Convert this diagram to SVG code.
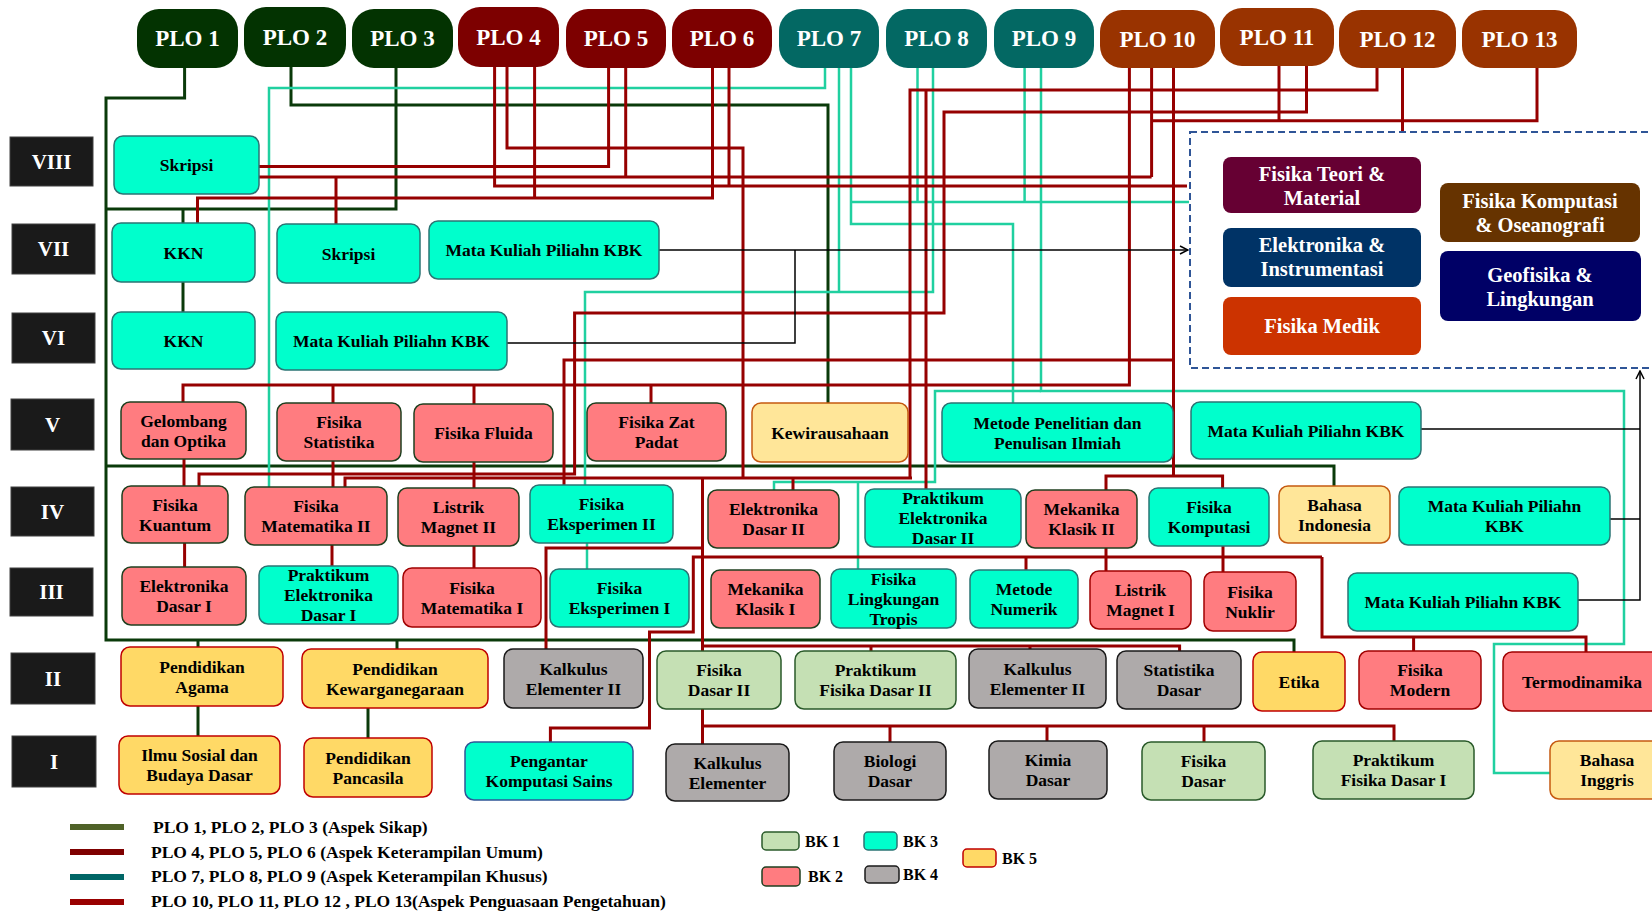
<svg xmlns="http://www.w3.org/2000/svg" width="1652" height="911" viewBox="0 0 1652 911">
<style>
.plo rect{stroke:none}
.plo text{font-family:'Liberation Serif',serif;font-weight:bold;font-size:23px;fill:#fff;text-anchor:middle}
.sem rect{fill:#1a1a1a;stroke:#404040;stroke-width:1}
.sem text{font-family:'Liberation Serif',serif;font-weight:bold;font-size:21px;fill:#fff;text-anchor:middle}
.n text{font-family:'Liberation Serif',serif;font-weight:bold;font-size:17.5px;fill:#000;text-anchor:middle}
.aq{fill:#00ffcc;stroke:#2b7474;stroke-width:1.5}
.pk{fill:#ff7c80;stroke:#1f3f1f;stroke-width:1.5}
.pkr{fill:#ff7c80;stroke:#a00000;stroke-width:1.5}
.gr{fill:#c5e0b4;stroke:#2a5a2a;stroke-width:1.5}
.gy{fill:#aeaaaa;stroke:#1a1a1a;stroke-width:1.5}
.yl{fill:#ffd966;stroke:#c00000;stroke-width:1.5}
.ly{fill:#ffe699;stroke:#c55a11;stroke-width:1.5}
.kbk text{font-family:'Liberation Serif',serif;font-weight:bold;font-size:20.5px;fill:#fff;text-anchor:middle}
.cg{stroke:#0a3a0a;stroke-width:3;fill:none}
.cr{stroke:#960000;stroke-width:3;fill:none}
.ct{stroke:#20d0a0;stroke-width:2.5;fill:none}
.cb{stroke:#000;stroke-width:1.5;fill:none}
.lg{font-family:'Liberation Serif',serif;font-weight:bold;font-size:17.5px;fill:#000}
.bk{font-family:'Liberation Serif',serif;font-weight:bold;font-size:16px;fill:#000}
</style>
<defs>
<marker id="ah" markerWidth="10" markerHeight="10" refX="9" refY="5" orient="auto" markerUnits="userSpaceOnUse">
<path d="M1,1 L9,5 L1,9" fill="none" stroke="#000" stroke-width="1.5"/>
</marker>
</defs>
<rect width="1652" height="911" fill="#fff"/>

<g id="connectors">
<g class="cg">
<path d="M184.6,68 V98 H106 V640 H1294 V652"/>
<path d="M106,466 H1334 V486"/>
<path d="M396,68 V209 H106"/>
<path d="M183,209 V223"/>
<path d="M183,282 V312"/>
<path d="M198,640 V647"/>
<path d="M397,640 V649"/>
<path d="M198,706 V736"/>
<path d="M368,708 V738"/>
<path d="M291,67 V105 H828 V403"/>
</g>
<g class="ct">
<path d="M825,68 V88 H269 V487"/>
<path d="M839,68 V292"/>
<path d="M933,68 V292 H585 V485"/>
<path d="M851,68 V224 H1013 V403"/>
<path d="M851,202 H1189"/>
<path d="M917.5,68 V202"/>
<path d="M1024.6,68 V202"/>
<path d="M1041,68 V391 H1624 V644 H1494 V773 H1550"/>
<path d="M1041,391 H935 V482 H774 V490"/>
<path d="M858,482 V569"/>
<path d="M587,543 V569"/>
</g>
<g class="cr">
<path d="M507,67 V148 H743 V478"/>
<path d="M494.6,67 V186 H1187"/>
<path d="M534.6,67 V198"/>
<path d="M712.5,68 V198 H197.5 V223"/>
<path d="M608.6,68 V166.5 H259"/>
<path d="M625.7,68 V177"/>
<path d="M259,177 H1151.6"/>
<path d="M336,177 V224"/>
<path d="M729,68 V186"/>
<path d="M1151.6,68 V177"/>
<path d="M1537,68 V120.7 H1151.6"/>
<path d="M1279,66 V120.7"/>
<path d="M1377,68 V90 H910 V478"/>
<path d="M926,90 V489"/>
<path d="M1306.5,66 V112 H944 V313 H574.6 V474 H199 V486"/>
<path d="M1173.5,68 V476"/>
<path d="M1173.5,360 H564 V485"/>
<path d="M1106,490 V476 H1222.6 V488"/>
<path d="M1129.4,68 V385 H183 V402"/>
<path d="M333,385 V403"/>
<path d="M474,385 V404"/>
<path d="M651,385 V403"/>
<path d="M1402.5,68 V132"/>
<path d="M345,487 V478 H912"/>
<path d="M793,478 V490"/>
<path d="M702.5,478 V651"/>
<path d="M702.5,709 V744"/>
<path d="M546,649 V548 H702.5"/>
<path d="M702.5,646 H1179.6 V651"/>
<path d="M871,646 V651"/>
<path d="M1030,646 V649"/>
<path d="M702.5,726 H1394 V741"/>
<path d="M890,726 V742"/>
<path d="M1047,726 V741"/>
<path d="M1204,726 V742"/>
<path d="M1322,557 H693.3 V632 H649.5 V728 H550.4 V742"/>
<path d="M1322,557 V637 H1586 V652"/>
<path d="M1413.6,637 V651"/>
<path d="M1026,557 V570"/>
<path d="M1106,548 V571"/>
<path d="M1223,546 V572"/>
<path d="M184,459 V486"/>
<path d="M184.6,543 V567"/>
<path d="M333,461 V487"/>
<path d="M332,545 V566"/>
<path d="M474,462 V488"/>
<path d="M474,546 V568"/>
</g>
<g class="cb">
<path d="M659,250 H1188" marker-end="url(#ah)"/>
<path d="M507,343 H795 V250"/>
<path d="M1421,429 H1640"/>
<path d="M1610,519 H1640"/>
<path d="M1578,600 H1640 V371" marker-end="url(#ah)"/>
</g>
</g>

<g id="plo" class="plo">
<g id="plo1"><rect x="137" y="9" width="101" height="59" rx="22" fill="#033301"/><text x="187.5" y="46">PLO 1</text></g>
<g id="plo2"><rect x="244" y="7" width="102" height="60" rx="22" fill="#033301"/><text x="295" y="45">PLO 2</text></g>
<g id="plo3"><rect x="352" y="9" width="101" height="59" rx="22" fill="#033301"/><text x="402.5" y="46">PLO 3</text></g>
<g id="plo4"><rect x="458" y="7" width="101" height="60" rx="22" fill="#7d0000"/><text x="508.5" y="45">PLO 4</text></g>
<g id="plo5"><rect x="566" y="9" width="100" height="59" rx="22" fill="#7d0000"/><text x="616" y="46">PLO 5</text></g>
<g id="plo6"><rect x="672" y="9" width="100" height="59" rx="22" fill="#7d0000"/><text x="722" y="46">PLO 6</text></g>
<g id="plo7"><rect x="779" y="9" width="100" height="59" rx="22" fill="#036863"/><text x="829" y="46">PLO 7</text></g>
<g id="plo8"><rect x="886" y="9" width="101" height="59" rx="22" fill="#036863"/><text x="936.5" y="46">PLO 8</text></g>
<g id="plo9"><rect x="994" y="9" width="100" height="59" rx="22" fill="#036863"/><text x="1044" y="46">PLO 9</text></g>
<g id="plo10"><rect x="1100" y="10" width="115" height="58" rx="22" fill="#993300"/><text x="1157.5" y="47">PLO 10</text></g>
<g id="plo11"><rect x="1220" y="8" width="114" height="58" rx="22" fill="#993300"/><text x="1277" y="45">PLO 11</text></g>
<g id="plo12"><rect x="1339" y="10" width="117" height="58" rx="22" fill="#993300"/><text x="1397.5" y="47">PLO 12</text></g>
<g id="plo13"><rect x="1462" y="10" width="115" height="58" rx="22" fill="#993300"/><text x="1519.5" y="47">PLO 13</text></g>
</g>

<g id="semesters" class="sem">
<g id="sem8"><rect x="10" y="137" width="83" height="49"/><text x="51.5" y="169">VIII</text></g>
<g id="sem7"><rect x="12" y="224" width="83" height="50"/><text x="53.5" y="256">VII</text></g>
<g id="sem6"><rect x="12" y="313" width="83" height="50"/><text x="53.5" y="345">VI</text></g>
<g id="sem5"><rect x="11" y="399" width="83" height="51"/><text x="52.5" y="432">V</text></g>
<g id="sem4"><rect x="11" y="487" width="83" height="49"/><text x="52.5" y="519">IV</text></g>
<g id="sem3"><rect x="10" y="568" width="83" height="48"/><text x="51.5" y="599">III</text></g>
<g id="sem2"><rect x="11" y="653" width="84" height="51"/><text x="53" y="686">II</text></g>
<g id="sem1"><rect x="12" y="736" width="84" height="51"/><text x="54" y="769">I</text></g>
</g>

<g id="kbk-box">
<rect x="1190" y="132" width="480" height="236" fill="none" stroke="#2f5597" stroke-width="2" stroke-dasharray="7 4"/>
<g class="kbk">
<g id="ftm"><rect x="1223" y="157" width="198" height="56" rx="8" fill="#660033"/><text x="1322" y="181">Fisika Teori &amp;</text><text x="1322" y="205">Material</text></g>
<g id="ei"><rect x="1223" y="228" width="198" height="59" rx="8" fill="#003366"/><text x="1322" y="252">Elektronika &amp;</text><text x="1322" y="276">Instrumentasi</text></g>
<g id="fm"><rect x="1223" y="297" width="198" height="58" rx="8" fill="#cc3300"/><text x="1322" y="333">Fisika Medik</text></g>
<g id="fko"><rect x="1440" y="183" width="200" height="59" rx="8" fill="#663300"/><text x="1540" y="208">Fisika Komputasi</text><text x="1540" y="232">&amp; Oseanografi</text></g>
<g id="gl"><rect x="1440" y="251" width="201" height="70" rx="8" fill="#000066"/><text x="1540" y="282">Geofisika &amp;</text><text x="1540" y="306">Lingkungan</text></g>
</g>
</g>

<g id="nodes" class="n">
<g id="skripsi8"><rect class="aq" x="114" y="136" width="145" height="58" rx="9"/><text x="186.5" y="171">Skripsi</text></g>
<g id="kkn7"><rect class="aq" x="112" y="223" width="143" height="59" rx="9"/><text x="183.5" y="258.5">KKN</text></g>
<g id="skripsi7"><rect class="aq" x="277" y="224" width="143" height="59" rx="9"/><text x="348.5" y="259.5">Skripsi</text></g>
<g id="kbk7"><rect class="aq" x="429" y="221" width="230" height="58" rx="9"/><text x="544" y="256">Mata Kuliah Piliahn KBK</text></g>
<g id="kkn6"><rect class="aq" x="112" y="312" width="143" height="57" rx="9"/><text x="183.5" y="346.5">KKN</text></g>
<g id="kbk6"><rect class="aq" x="276" y="312" width="231" height="58" rx="9"/><text x="391.5" y="347">Mata Kuliah Piliahn KBK</text></g>

<g id="gelombang"><rect class="pk" x="121" y="402" width="125" height="57" rx="9"/><text x="183.5" y="426.5">Gelombang</text><text x="183.5" y="446.5">dan Optika</text></g>
<g id="fisstat"><rect class="pk" x="277" y="403" width="124" height="58" rx="9"/><text x="339" y="428">Fisika</text><text x="339" y="448">Statistika</text></g>
<g id="fisfluida"><rect class="pk" x="414" y="404" width="139" height="58" rx="9"/><text x="483.5" y="439">Fisika Fluida</text></g>
<g id="fiszat"><rect class="pk" x="587" y="403" width="139" height="58" rx="9"/><text x="656.5" y="428">Fisika Zat</text><text x="656.5" y="448">Padat</text></g>
<g id="kewira"><rect class="ly" x="752" y="403" width="156" height="59" rx="9"/><text x="830" y="438.5">Kewirausahaan</text></g>
<g id="metpen"><rect class="aq" x="942" y="403" width="231" height="59" rx="9"/><text x="1057.5" y="428.5">Metode Penelitian dan</text><text x="1057.5" y="448.5">Penulisan Ilmiah</text></g>
<g id="kbk5"><rect class="aq" x="1191" y="402" width="230" height="57" rx="9"/><text x="1306" y="436.5">Mata Kuliah Piliahn KBK</text></g>

<g id="fiskuantum"><rect class="pk" x="122" y="486" width="106" height="57" rx="9"/><text x="175" y="510.5">Fisika</text><text x="175" y="530.5">Kuantum</text></g>
<g id="fismat2"><rect class="pk" x="245" y="487" width="142" height="58" rx="9"/><text x="316" y="512">Fisika</text><text x="316" y="532">Matematika II</text></g>
<g id="lm2"><rect class="pk" x="398" y="488" width="121" height="58" rx="9"/><text x="458.5" y="513">Listrik</text><text x="458.5" y="533">Magnet II</text></g>
<g id="fiseks2"><rect class="aq" x="530" y="485" width="143" height="58" rx="9"/><text x="601.5" y="510">Fisika</text><text x="601.5" y="530">Eksperimen II</text></g>
<g id="eldas2"><rect class="pk" x="708" y="490" width="131" height="58" rx="9"/><text x="773.5" y="515">Elektronika</text><text x="773.5" y="535">Dasar II</text></g>
<g id="prakeldas2"><rect class="aq" x="865" y="489" width="156" height="58" rx="9"/><text x="943" y="504">Praktikum</text><text x="943" y="524">Elektronika</text><text x="943" y="544">Dasar II</text></g>
<g id="mekklas2"><rect class="pk" x="1026" y="490" width="111" height="58" rx="9"/><text x="1081.5" y="515">Mekanika</text><text x="1081.5" y="535">Klasik II</text></g>
<g id="fiskomp"><rect class="aq" x="1149" y="488" width="120" height="58" rx="9"/><text x="1209" y="513">Fisika</text><text x="1209" y="533">Komputasi</text></g>
<g id="bahasaindo"><rect class="ly" x="1279" y="486" width="111" height="57" rx="9"/><text x="1334.5" y="510.5">Bahasa</text><text x="1334.5" y="530.5">Indonesia</text></g>
<g id="kbk4"><rect class="aq" x="1399" y="487" width="211" height="58" rx="9"/><text x="1504.5" y="512">Mata Kuliah Piliahn</text><text x="1504.5" y="532">KBK</text></g>

<g id="eldas1"><rect class="pk" x="122" y="567" width="124" height="58" rx="9"/><text x="184" y="592">Elektronika</text><text x="184" y="612">Dasar I</text></g>
<g id="prakeldas1"><rect class="aq" x="259" y="566" width="139" height="58" rx="9"/><text x="328.5" y="581">Praktikum</text><text x="328.5" y="601">Elektronika</text><text x="328.5" y="621">Dasar I</text></g>
<g id="fismat1"><rect class="pkr" x="403" y="568" width="138" height="59" rx="9"/><text x="472" y="593.5">Fisika</text><text x="472" y="613.5">Matematika I</text></g>
<g id="fiseks1"><rect class="aq" x="550" y="569" width="139" height="58" rx="9"/><text x="619.5" y="594">Fisika</text><text x="619.5" y="614">Eksperimen I</text></g>
<g id="mekklas1"><rect class="pk" x="711" y="570" width="109" height="58" rx="9"/><text x="765.5" y="595">Mekanika</text><text x="765.5" y="615">Klasik I</text></g>
<g id="fisling"><rect class="aq" x="831" y="569" width="125" height="59" rx="9"/><text x="893.5" y="584.5">Fisika</text><text x="893.5" y="604.5">Lingkungan</text><text x="893.5" y="624.5">Tropis</text></g>
<g id="metnum"><rect class="aq" x="970" y="570" width="108" height="58" rx="9"/><text x="1024" y="595">Metode</text><text x="1024" y="615">Numerik</text></g>
<g id="lm1"><rect class="pkr" x="1090" y="571" width="101" height="58" rx="9"/><text x="1140.5" y="596">Listrik</text><text x="1140.5" y="616">Magnet I</text></g>
<g id="fisnuklir"><rect class="pkr" x="1204" y="572" width="92" height="59" rx="9"/><text x="1250" y="597.5">Fisika</text><text x="1250" y="617.5">Nuklir</text></g>
<g id="kbk3"><rect class="aq" x="1348" y="573" width="230" height="58" rx="9"/><text x="1463" y="608">Mata Kuliah Piliahn KBK</text></g>

<g id="pendagama"><rect class="yl" x="121" y="647" width="162" height="59" rx="9"/><text x="202" y="672.5">Pendidikan</text><text x="202" y="692.5">Agama</text></g>
<g id="pkn"><rect class="yl" x="302" y="649" width="186" height="59" rx="9"/><text x="395" y="674.5">Pendidikan</text><text x="395" y="694.5">Kewarganegaraan</text></g>
<g id="kalk2a"><rect class="gy" x="504" y="649" width="139" height="59" rx="9"/><text x="573.5" y="674.5">Kalkulus</text><text x="573.5" y="694.5">Elementer II</text></g>
<g id="fisdas2"><rect class="gr" x="657" y="651" width="124" height="58" rx="9"/><text x="719" y="676">Fisika</text><text x="719" y="696">Dasar II</text></g>
<g id="prakfd2"><rect class="gr" x="795" y="651" width="161" height="58" rx="9"/><text x="875.5" y="676">Praktikum</text><text x="875.5" y="696">Fisika Dasar II</text></g>
<g id="kalk2b"><rect class="gy" x="969" y="649" width="137" height="59" rx="9"/><text x="1037.5" y="674.5">Kalkulus</text><text x="1037.5" y="694.5">Elementer II</text></g>
<g id="statdas"><rect class="gy" x="1117" y="651" width="124" height="58" rx="9"/><text x="1179" y="676">Statistika</text><text x="1179" y="696">Dasar</text></g>
<g id="etika"><rect class="yl" x="1253" y="652" width="92" height="59" rx="9"/><text x="1299" y="687.5">Etika</text></g>
<g id="fismodern"><rect class="pkr" x="1359" y="651" width="122" height="58" rx="9"/><text x="1420" y="676">Fisika</text><text x="1420" y="696">Modern</text></g>
<g id="termo"><rect class="pkr" x="1503" y="652" width="165" height="59" rx="9"/><text x="1582" y="687.5">Termodinamika</text></g>

<g id="ilmusosial"><rect class="yl" x="119" y="736" width="161" height="58" rx="9"/><text x="199.5" y="761">Ilmu Sosial dan</text><text x="199.5" y="781">Budaya Dasar</text></g>
<g id="pancasila"><rect class="yl" x="304" y="738" width="128" height="59" rx="9"/><text x="368" y="763.5">Pendidikan</text><text x="368" y="783.5">Pancasila</text></g>
<g id="pengkomp"><rect class="aq" x="465" y="742" width="168" height="58" rx="9" style="stroke:#2f5597"/><text x="549" y="767">Pengantar</text><text x="549" y="787">Komputasi Sains</text></g>
<g id="kalk"><rect class="gy" x="666" y="744" width="123" height="57" rx="9"/><text x="727.5" y="768.5">Kalkulus</text><text x="727.5" y="788.5">Elementer</text></g>
<g id="biologi"><rect class="gy" x="834" y="742" width="112" height="58" rx="9"/><text x="890" y="767">Biologi</text><text x="890" y="787">Dasar</text></g>
<g id="kimia"><rect class="gy" x="989" y="741" width="118" height="58" rx="9"/><text x="1048" y="766">Kimia</text><text x="1048" y="786">Dasar</text></g>
<g id="fisdasar"><rect class="gr" x="1142" y="742" width="123" height="58" rx="9"/><text x="1203.5" y="767">Fisika</text><text x="1203.5" y="787">Dasar</text></g>
<g id="prakfd1"><rect class="gr" x="1313" y="741" width="161" height="58" rx="9"/><text x="1393.5" y="766">Praktikum</text><text x="1393.5" y="786">Fisika Dasar I</text></g>
<g id="bahasainggris"><rect class="ly" x="1550" y="741" width="120" height="58" rx="9"/><text x="1607" y="766">Bahasa</text><text x="1607" y="786">Inggris</text></g>
</g>

<g id="legend">
<line x1="70" y1="827" x2="124" y2="827" stroke="#4f6228" stroke-width="6"/>
<line x1="70" y1="852" x2="124" y2="852" stroke="#7f0000" stroke-width="6"/>
<line x1="70" y1="877" x2="124" y2="877" stroke="#006666" stroke-width="6"/>
<line x1="70" y1="902" x2="124" y2="902" stroke="#990000" stroke-width="6"/>
<text class="lg" x="153" y="833">PLO 1, PLO 2, PLO 3 (Aspek Sikap)</text>
<text class="lg" x="151" y="858">PLO 4, PLO 5, PLO 6 (Aspek Keterampilan Umum)</text>
<text class="lg" x="151" y="882">PLO 7, PLO 8, PLO 9 (Aspek Keterampilan Khusus)</text>
<text class="lg" x="151" y="907">PLO 10, PLO 11, PLO 12 , PLO 13(Aspek Penguasaan Pengetahuan)</text>
<rect class="gr" x="762" y="832" width="37" height="18" rx="4"/><text class="bk" x="805" y="847">BK 1</text>
<rect class="aq" x="864" y="832" width="33" height="18" rx="4"/><text class="bk" x="903" y="847">BK 3</text>
<rect class="pk" x="762" y="867" width="38" height="19" rx="4"/><text class="bk" x="808" y="882">BK 2</text>
<rect class="gy" x="865" y="866" width="34" height="17" rx="4"/><text class="bk" x="903" y="880">BK 4</text>
<rect class="yl" x="963" y="849" width="33" height="18" rx="4"/><text class="bk" x="1002" y="864">BK 5</text>
</g>
</svg>
